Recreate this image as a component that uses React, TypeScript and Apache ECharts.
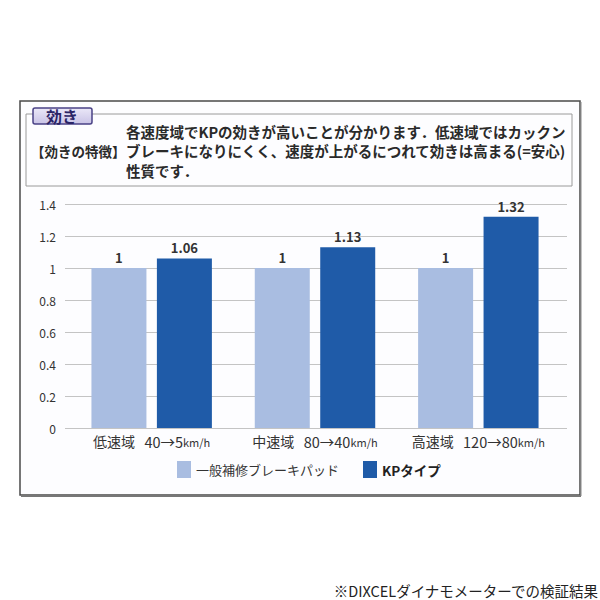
import React, { useEffect, useRef } from "react";
import * as echarts from "echarts";

const categories = ["低速域", "中速域", "高速域"];
const speedRanges = ["40→5", "80→40", "120→80"];
const seriesNames = ["一般補修ブレーキパッド", "KPタイプ"];
const generalPad = [1, 1, 1];
const kpType = [1.06, 1.13, 1.32];
const yMin = 0;
const yMax = 1.4;
const yInterval = 0.2;

const tagText = "効き";
const featureLabel = "【効きの特徴】";
const descLines = [
  "各速度域でKPの効きが高いことが分かります．低速域ではカックン",
  "ブレーキになりにくく、速度が上がるにつれて効きは高まる(=安心)",
  "性質です．",
];
const footnote = "※DIXCELダイナモメーターでの検証結果";

const FONT = '"Noto Sans CJK JP", "Noto Sans", sans-serif';

export default function App() {
  const ref = useRef<HTMLDivElement>(null);
  useEffect(() => {
    if (!ref.current) return;
    const chart = echarts.init(ref.current, null, { renderer: "svg" });
    chart.setOption({
      animation: false,
      backgroundColor: "#ffffff",
      textStyle: { fontFamily: FONT },
      grid: [
        { left: 65, right: 33, top: 204, bottom: 172 },
        { left: 70, right: 40, top: 204, bottom: 172 },
      ],
      xAxis: [
        { gridIndex: 0, type: "value", show: false, min: 0, max: 1 },
        {
          gridIndex: 1,
          type: "category",
          data: categories,
          axisLine: { show: false },
          axisTick: { show: false },
          axisLabel: {
            interval: 0,
            hideOverlap: false,
            margin: 6,
            formatter: (v: string, i: number) =>
              `{a|${v}}  {b|${speedRanges[i]}}{c|km/h}`,
            rich: {
              a: { fontSize: 14, color: "#333", fontFamily: FONT, padding: [0, 4, 0, 0] },
              b: { fontSize: 14.5, color: "#333", fontFamily: FONT },
              c: { fontSize: 11, color: "#333", fontFamily: FONT, padding: [2, 0, 0, 0] },
            },
          },
        },
      ],
      yAxis: [
        {
          gridIndex: 0,
          type: "value",
          min: yMin,
          max: yMax,
          interval: yInterval,
          axisLine: { show: false },
          axisTick: { show: false },
          splitLine: { lineStyle: { color: "#c4c4c4", width: 1 } },
          axisLabel: { margin: 9, fontSize: 12, color: "#333", fontFamily: FONT },
        },
        {
          gridIndex: 1,
          type: "value",
          min: yMin,
          max: yMax,
          interval: yInterval,
          show: false,
          splitLine: { show: false },
        },
      ],
      legend: {
        left: 172,
        top: 456,
        itemWidth: 14,
        itemHeight: 17,
        itemGap: 24,
        icon: "rect",
        data: [
          { name: seriesNames[0], textStyle: { fontSize: 13, color: "#333", fontFamily: FONT } },
          { name: seriesNames[1], textStyle: { fontSize: 13.5, color: "#222", fontWeight: "bold", fontFamily: FONT } },
        ],
      },
      series: [
        {
          name: seriesNames[0],
          type: "bar",
          xAxisIndex: 1,
          yAxisIndex: 1,
          data: generalPad,
          barWidth: 55,
          barGap: "19%",
          itemStyle: { color: "#a9bde1" },
          label: {
            show: true,
            position: "top",
            distance: 4,
            fontSize: 13,
            fontWeight: "bold",
            color: "#333",
            fontFamily: FONT,
          },
        },
        {
          name: seriesNames[1],
          type: "bar",
          xAxisIndex: 1,
          yAxisIndex: 1,
          data: kpType,
          barWidth: 55,
          barGap: "19%",
          itemStyle: { color: "#1f5ba8" },
          label: {
            show: true,
            position: "top",
            distance: 4,
            fontSize: 13,
            fontWeight: "bold",
            color: "#333",
            fontFamily: FONT,
          },
        },
      ],
      graphic: [
        {
          type: "rect",
          z: -10,
          shape: { x: 20, y: 101, width: 560, height: 394 },
          style: { fill: "#fdfdff", stroke: "#4a4a4a", lineWidth: 1.5 },
        },
        {
          type: "line",
          shape: { x1: 21, y1: 496, x2: 581, y2: 496 },
          style: { stroke: "#777", lineWidth: 2 },
        },
        {
          type: "line",
          shape: { x1: 581, y1: 102, x2: 581, y2: 496 },
          style: { stroke: "#888", lineWidth: 1 },
        },
        {
          type: "rect",
          shape: { x: 26, y: 114, width: 546, height: 72 },
          style: { fill: "none", stroke: "#9a9a9a", lineWidth: 1 },
        },
        {
          type: "rect",
          shape: { x: 33, y: 108, width: 59, height: 16, r: 2 },
          style: {
            fill: new echarts.graphic.LinearGradient(0, 0, 0, 1, [
              { offset: 0, color: "#ebe8f8" },
              { offset: 1, color: "#c9c3e6" },
            ]),
            stroke: "#4a4286",
            lineWidth: 1.5,
          },
        },
        {
          type: "text",
          x: 62,
          y: 116,
          style: {
            text: tagText,
            fontSize: 16,
            fontWeight: "bold",
            fill: "#2a2466",
            fontFamily: FONT,
            align: "center",
            verticalAlign: "middle",
          },
        },
        {
          type: "text",
          x: 31,
          y: 151,
          style: {
            text: featureLabel,
            fontSize: 13.5,
            fontWeight: "bold",
            fill: "#2a2a2a",
            fontFamily: FONT,
            align: "left",
            verticalAlign: "middle",
          },
        },
        ...descLines.map((line, i) => ({
          type: "text",
          x: 126,
          y: 131 + i * 19.5,
          style: {
            text: line,
            fontSize: 14.5,
            fontWeight: "bold",
            fill: "#2a2a2a",
            fontFamily: FONT,
            align: "left",
            verticalAlign: "middle",
          },
        })),
        {
          type: "text",
          x: 598,
          y: 590,
          style: {
            text: footnote,
            fontSize: 14.5,
            fill: "#222",
            fontFamily: FONT,
            align: "right",
            verticalAlign: "middle",
          },
        },
      ],
    });
    return () => chart.dispose();
  }, []);
  return (
    <div
      ref={ref}
      style={{ position: "fixed", left: 0, top: 0, width: 600, height: 600 }}
    />
  );
}
